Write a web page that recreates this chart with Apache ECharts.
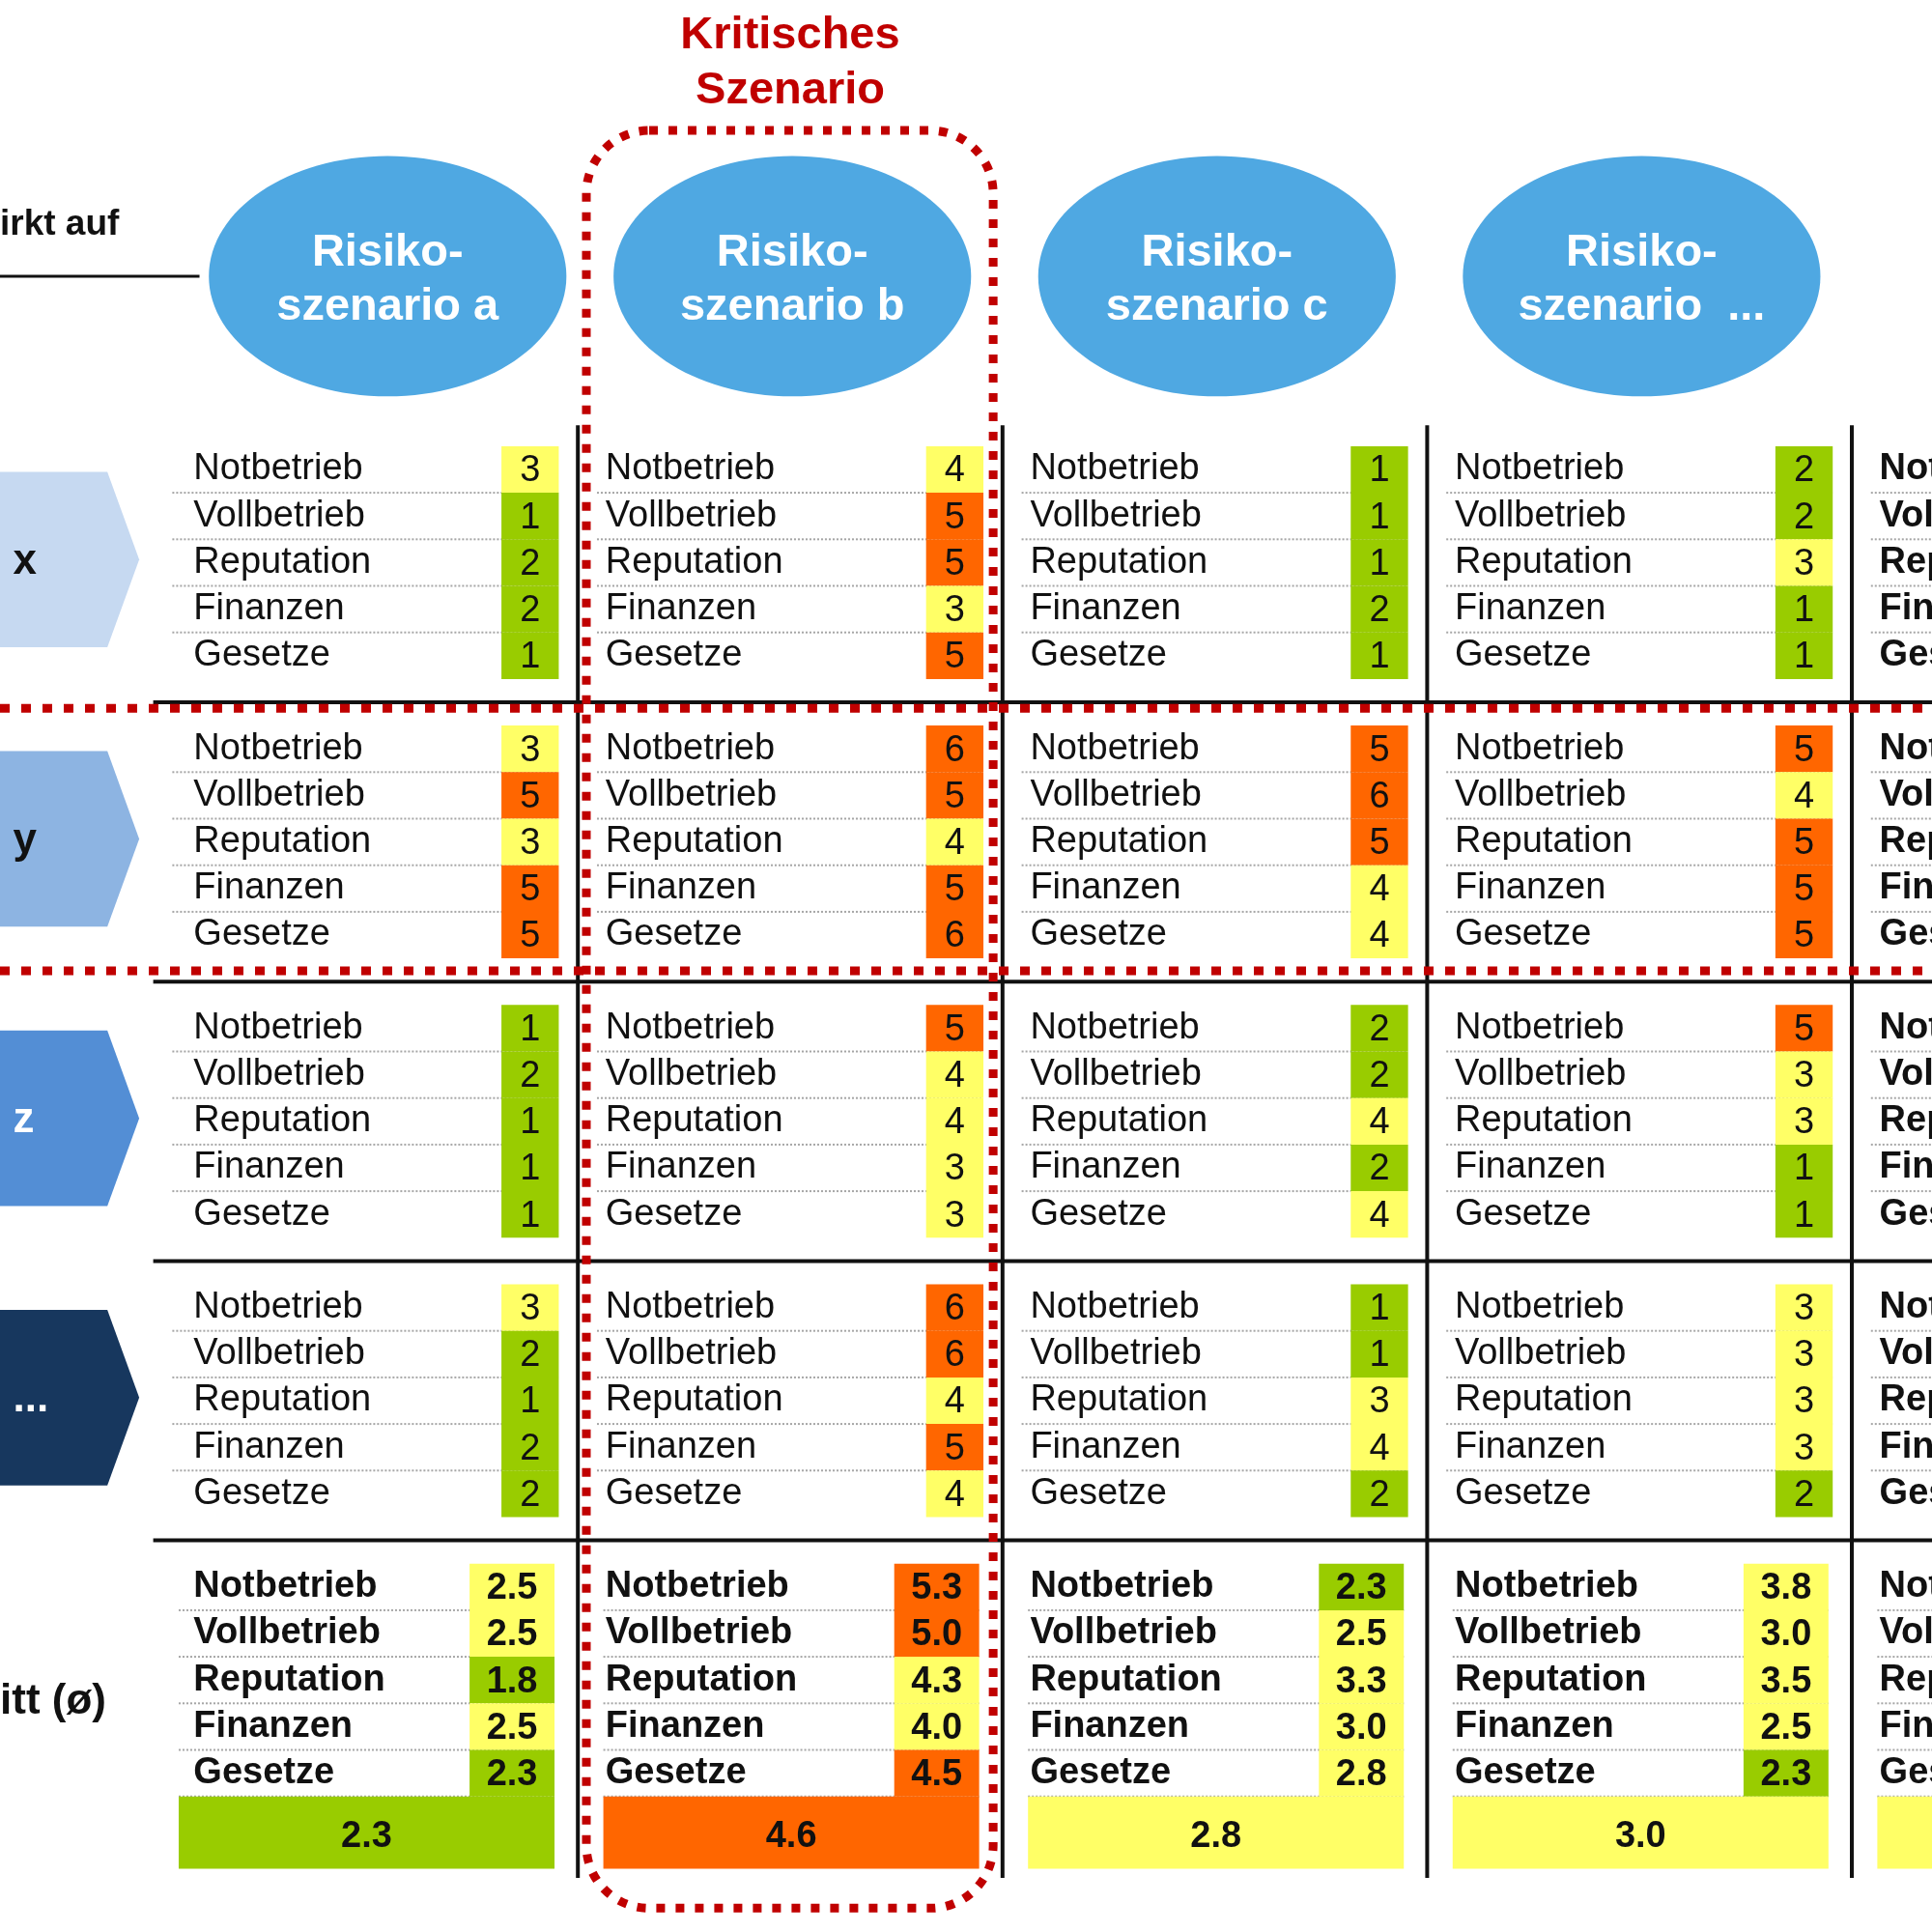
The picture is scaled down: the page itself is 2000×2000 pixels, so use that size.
<!DOCTYPE html>
<html>
<head>
<meta charset="utf-8">
<title>Risikoszenarien</title>
<script src="https://cdn.jsdelivr.net/npm/echarts@6/dist/echarts.min.js"></script>
<style>
html, body { margin: 0; padding: 0; background: #fff; }
#chart { width: 2000px; height: 2000px; }
</style>
</head>
<body>
<div id="chart"></div>
<script>
// Kategorien
const scenarioTitles = ['Risiko-\nszenario a', 'Risiko-\nszenario b', 'Risiko-\nszenario c', 'Risiko-\nszenario  ...']
const processes = ['x', 'y', 'z', '...']
const criteria = ['Notbetrieb', 'Vollbetrieb', 'Reputation', 'Finanzen', 'Gesetze']
const criticalScenario = 1

// Bewertungen je Szenario: eine Zeile pro Prozess (x, y, z, ...), Werte in Reihenfolge der Kriterien
const scoresA = [[3, 1, 2, 2, 1], [3, 5, 3, 5, 5], [1, 2, 1, 1, 1], [3, 2, 1, 2, 2]]
const scoresB = [[4, 5, 5, 3, 5], [6, 5, 4, 5, 6], [5, 4, 4, 3, 3], [6, 6, 4, 5, 4]]
const scoresC = [[1, 1, 1, 2, 1], [5, 6, 5, 4, 4], [2, 2, 4, 2, 4], [1, 1, 3, 4, 2]]
const scoresD = [[2, 2, 3, 1, 1], [5, 4, 5, 5, 5], [5, 3, 3, 1, 1], [3, 3, 3, 3, 2]]

// Durchschnitt (ø) je Kriterium
const avgA = [2.5, 2.5, 1.8, 2.5, 2.3]
const avgB = [5.3, 5.0, 4.3, 4.0, 4.5]
const avgC = [2.3, 2.5, 3.3, 3.0, 2.8]
const avgD = [3.8, 3.0, 3.5, 2.5, 2.3]
// Gesamtwert je Szenario (5. Spalte ist am Rand abgeschnitten, Wert geschätzt)
const totals = [2.3, 4.6, 2.8, 3.0, 3.0]

const scores = [scoresA, scoresB, scoresC, scoresD]
const avgs = [avgA, avgB, avgC, avgD]
const columnCount = 5 // inkl. angeschnittener Spalte rechts

// Layout in Achseneinheiten: x = Spalte, y = Zeile (5 Zeilen + 1 Abstand je Block)
const BLOCK = 6
const AVG_START = processes.length * BLOCK
const X_MIN = -0.3608, X_MAX = 4.1888
const Y_MIN = -10.083, Y_MAX = 31.411
const COL = { label: 0.065, sepL: 0.045, cellL: 0.82, cellR: 0.955, avgL: 0.745, avgR: 0.945, barL: 0.06 }
const FONT = '"Liberation Sans", Arial, sans-serif'

const colors = { green: '#99CC00', yellow: '#FFFF66', orange: '#FF6600' }

// Daten für die Serien
const cellData = []
scores.forEach((proc, s) => proc.forEach((row, k) => row.forEach((val, r) => cellData.push([val, s, k * BLOCK + r]))))
const avgData = []
avgs.forEach((row, s) => row.forEach((val, r) => avgData.push([val, s, AVG_START + r])))
const totalData = totals.map((val, s) => [val, s])

const labelData = []
const sepData = []
for (let s = 0; s < columnCount; s++) {
	for (let k = 0; k < processes.length; k++) {
		criteria.forEach((c, r) => {
			labelData.push([s, k * BLOCK + r, r, s === columnCount - 1 ? 1 : 0])
			if (r < criteria.length - 1) sepData.push([s, k * BLOCK + r + 0.5, 0])
		})
	}
	criteria.forEach((c, r) => {
		labelData.push([s, AVG_START + r, r, 1])
		sepData.push([s, AVG_START + r + 0.5, 1])
	})
}

const chart = echarts.init(document.getElementById('chart'))

const textEl = (p, text, opt) => ({
	type: 'text',
	x: p[0],
	y: p[1],
	style: Object.assign({
		text,
		fill: '#111',
		fontFamily: FONT,
		fontSize: 38,
		align: 'left',
		verticalAlign: 'middle',
	}, opt),
})

const rectEl = (p0, p1, style) => ({
	type: 'rect',
	shape: { x: p0[0], y: p0[1], width: p1[0] - p0[0], height: p1[1] - p0[1] },
	style,
})

const option = {
	animation: false,
	backgroundColor: '#ffffff',
	grid: { left: 0, right: 0, top: 0, bottom: 0, containLabel: false },
	xAxis: { type: 'value', min: X_MIN, max: X_MAX, show: false },
	yAxis: { type: 'value', min: Y_MIN, max: Y_MAX, inverse: true, show: false },
	visualMap: {
		show: false,
		type: 'piecewise',
		dimension: 0,
		seriesIndex: [6, 7, 8],
		pieces: [
			{ lt: 2.5, color: colors.green },
			{ gte: 2.5, lt: 4.5, color: colors.yellow },
			{ gte: 4.5, color: colors.orange },
		],
	},
	series: [
		// 0: Kopf links und Titel
		{
			type: 'custom',
			data: [[criticalScenario]],
			z: 2,
			renderItem: (params, api) => {
				const crit = api.value(0)
				const a = api.coord([X_MIN, -4.15]), b = api.coord([0.109, -4.15])
				return {
					type: 'group',
					children: [
						textEl(api.coord([crit + 0.5, -8.72]), 'Kritisches\nSzenario', {
							fill: '#C00000', fontSize: 47, fontWeight: 'bold', align: 'center', lineHeight: 57,
						}),
						textEl(api.coord([X_MIN, -5.25]), 'irkt auf', { fontSize: 37, fontWeight: 'bold' }),
						{ type: 'line', shape: { x1: a[0], y1: a[1], x2: b[0], y2: b[1] }, style: { stroke: '#111', lineWidth: 3 } },
						textEl(api.coord([X_MIN, AVG_START + 2.47]), 'itt (ø)', { fontSize: 44, fontWeight: 'bold' }),
					],
				}
			},
		},
		// 1: Szenario-Ellipsen
		{
			type: 'custom',
			data: scenarioTitles.map((t, s) => [s]),
			z: 2,
			renderItem: (params, api) => {
				const s = api.value(0)
				const c = api.coord([s + (s === 0 ? 0.552 : 0.505), -4.15])
				const r = api.size([0.421, 2.58])
				return {
					type: 'group',
					children: [
						{ type: 'ellipse', shape: { cx: c[0], cy: c[1], rx: r[0], ry: r[1] }, style: { fill: '#4FA8E2' } },
						textEl([c[0], c[1] + 4], scenarioTitles[s], {
							fill: '#ffffff', fontSize: 47, fontWeight: 'bold', align: 'center', lineHeight: 56,
						}),
					],
				}
			},
		},
		// 2: Prozess-Pfeile links
		{
			type: 'custom',
			data: processes.map((p, k) => [k]),
			z: 2,
			renderItem: (params, api) => {
				const k = api.value(0)
				const top = k * BLOCK + 0.05, bot = k * BLOCK + 3.82, mid = (top + bot) / 2
				const fills = ['#C6D9F1', '#8DB4E2', '#538ED5', '#17375E']
				const pts = [[X_MIN - 0.05, top], [-0.108, top], [-0.033, mid], [-0.108, bot], [X_MIN - 0.05, bot]].map((q) => api.coord(q))
				return {
					type: 'group',
					children: [
						{ type: 'polygon', shape: { points: pts }, style: { fill: fills[k] } },
						textEl(api.coord([-0.33, mid + 0.05]), processes[k], {
							fill: k >= 2 ? '#ffffff' : '#111', fontSize: 44, fontWeight: 'bold',
						}),
					],
				}
			},
		},
		// 3: schwarze Rasterlinien
		{
			type: 'custom',
			data: [[0, 5], [0, 11], [0, 17], [0, 23], [1, 1], [1, 2], [1, 3], [1, 4]],
			z: 3,
			renderItem: (params, api) => {
				const kind = api.value(0), pos = api.value(1)
				const a = kind === 0 ? api.coord([0, pos]) : api.coord([pos, -0.95])
				const b = kind === 0 ? api.coord([X_MAX, pos]) : api.coord([pos, 30.25])
				return { type: 'line', shape: { x1: a[0], y1: a[1], x2: b[0], y2: b[1] }, style: { stroke: '#111', lineWidth: 4 } }
			},
		},
		// 4: gepunktete Trennlinien
		{
			type: 'custom',
			data: sepData,
			z: 3,
			renderItem: (params, api) => {
				const s = api.value(0), y = api.value(1), kind = api.value(2)
				const a = api.coord([s + (kind ? COL.barL : COL.sepL), y])
				const b = api.coord([s + (kind ? COL.avgR : COL.cellR), y])
				return { type: 'line', shape: { x1: a[0], y1: a[1], x2: b[0], y2: b[1] }, style: { stroke: '#A6A6A6', lineWidth: 2, lineDash: [2, 2] } }
			},
		},
		// 5: Kriterien-Beschriftung
		{
			type: 'custom',
			data: labelData,
			z: 4,
			renderItem: (params, api) => {
				const s = api.value(0), y = api.value(1), r = api.value(2), bold = api.value(3)
				const dx = s === 0 ? COL.label + 0.03 : COL.label
				return textEl(api.coord([s + dx, y]), criteria[r], { fontWeight: bold ? 'bold' : 'normal' })
			},
		},
		// 6: Bewertungszellen
		{
			type: 'custom',
			data: cellData,
			z: 4,
			renderItem: (params, api) => {
				const val = api.value(0), s = api.value(1), y = api.value(2)
				const p0 = api.coord([s + COL.cellL, y - 0.5])
				const p1 = api.coord([s + COL.cellR, y + 0.5])
				return {
					type: 'group',
					children: [
						rectEl(p0, p1, { fill: api.visual('color') }),
						textEl([(p0[0] + p1[0]) / 2, (p0[1] + p1[1]) / 2 + 2], String(val), { align: 'center' }),
					],
				}
			},
		},
		// 7: Durchschnittszellen
		{
			type: 'custom',
			data: avgData,
			z: 4,
			renderItem: (params, api) => {
				const val = api.value(0), s = api.value(1), y = api.value(2)
				const p0 = api.coord([s + COL.avgL, y - 0.5])
				const p1 = api.coord([s + COL.avgR, y + 0.5])
				return {
					type: 'group',
					children: [
						rectEl(p0, p1, { fill: api.visual('color') }),
						textEl([(p0[0] + p1[0]) / 2, (p0[1] + p1[1]) / 2 + 2], val.toFixed(1), { align: 'center', fontWeight: 'bold' }),
					],
				}
			},
		},
		// 8: Gesamtbalken
		{
			type: 'custom',
			data: totalData,
			z: 4,
			renderItem: (params, api) => {
				const val = api.value(0), s = api.value(1)
				const p0 = api.coord([s + COL.barL, AVG_START + 4.5])
				const p1 = api.coord([s + COL.avgR, AVG_START + 6.05])
				return {
					type: 'group',
					children: [
						rectEl(p0, p1, { fill: api.visual('color') }),
						textEl([(p0[0] + p1[0]) / 2, (p0[1] + p1[1]) / 2 + 4], val.toFixed(1), { align: 'center', fontWeight: 'bold' }),
					],
				}
			},
		},
		// 9: rote Markierung des kritischen Szenarios und Prozesses
		{
			type: 'custom',
			data: [[0, 5.13], [0, 10.77], [1, criticalScenario]],
			z: 6,
			renderItem: (params, api) => {
				const kind = api.value(0), pos = api.value(1)
				if (kind === 0) {
					const a = api.coord([X_MIN, pos]), b = api.coord([X_MAX, pos])
					return { type: 'line', shape: { x1: a[0], y1: a[1], x2: b[0], y2: b[1] }, style: { stroke: '#C00000', lineWidth: 9, lineDash: [10, 12] } }
				}
				const p0 = api.coord([pos + 0.02, -7.28])
				const p1 = api.coord([pos + 0.978, 30.9])
				return {
					type: 'rect',
					shape: { x: p0[0], y: p0[1], width: p1[0] - p0[0], height: p1[1] - p0[1], r: 65 },
					style: { fill: 'none', stroke: '#C00000', lineWidth: 9, lineDash: [9, 11] },
				}
			},
		},
	],
}

option && chart.setOption(option)
</script>
</body>
</html>
